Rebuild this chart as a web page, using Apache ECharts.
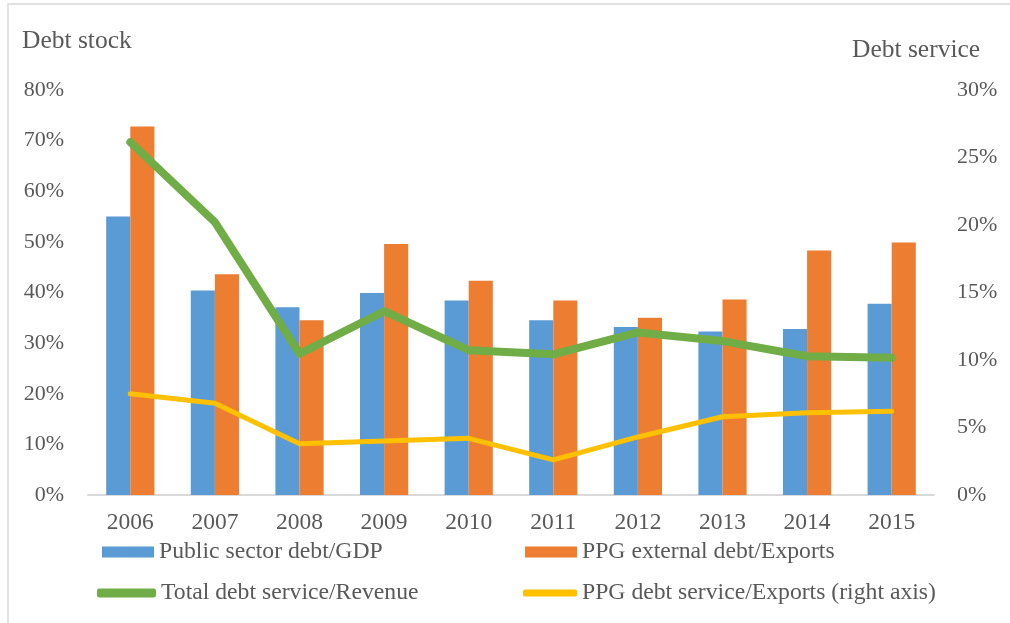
<!DOCTYPE html>
<html>
<head>
<meta charset="utf-8">
<script src="https://cdn.jsdelivr.net/npm/echarts@6/dist/echarts.min.js"></script>
<style>
  html, body { margin: 0; padding: 0; background: #fff; }
  #chart { width: 1010px; height: 623px; }
</style>
</head>
<body>
<div id="chart"></div>
<script>
const years = ['2006', '2007', '2008', '2009', '2010', '2011', '2012', '2013', '2014', '2015']
const publicDebtGdp = [55.0, 40.4, 37.1, 39.9, 38.4, 34.5, 33.2, 32.3, 32.8, 37.8]
const ppgDebtExports = [72.8, 43.6, 34.5, 49.6, 42.3, 38.4, 35.0, 38.6, 48.3, 49.9]
const debtServiceRevenue = [69.7, 53.9, 27.9, 36.3, 28.6, 27.8, 32.1, 30.4, 27.4, 27.1]
const ppgServiceExports = [7.5, 6.8, 3.8, 4.0, 4.2, 2.6, 4.3, 5.8, 6.1, 6.2]

const names = ['Public sector debt/GDP', 'PPG external debt/Exports',
    'Total debt service/Revenue', 'PPG debt service/Exports (right axis)']

const textColor = '#595959'
const fontFamily = '"Liberation Serif", "Times New Roman", serif'

const myChart = echarts.init(document.getElementById('chart'))

function oneLegend(name, left, top, icon, w, h){
    return {
        data: [name],
        left: left,
        top: top,
        padding: 0,
        icon: icon,
        itemWidth: w,
        itemHeight: h,
        selectedMode: false,
        textStyle: {color: textColor, fontFamily: fontFamily, fontSize: 23.7}
    }
}

myChart.setOption({
    animation: false,
    textStyle: {fontFamily: fontFamily},
    grid: {left: 88, right: 76, top: 90, bottom: 128},
    legend: [
        oneLegend(names[0], 102, 540, 'rect', 52, 11),
        oneLegend(names[1], 525, 540, 'rect', 52, 11),
        oneLegend(names[2], 97, 581, 'roundRect', 59, 9),
        oneLegend(names[3], 523, 581, 'roundRect', 54, 7)
    ],
    graphic: [
        {
            type: 'rect', z: -1, silent: true,
            shape: {x: 8, y: 4, width: 1100, height: 700},
            style: {fill: 'none', stroke: '#D9D9D9', lineWidth: 1.5}
        },
        {
            type: 'text', left: 22, top: 28,
            style: {text: 'Debt stock', fill: textColor, font: '25.5px ' + fontFamily}
        },
        {
            type: 'text', left: 852, top: 37,
            style: {text: 'Debt service', fill: textColor, font: '25.5px ' + fontFamily}
        }
    ],
    xAxis: {
        type: 'category',
        data: years,
        axisLine: {lineStyle: {color: '#D9D9D9', width: 2}},
        axisTick: {show: false},
        axisLabel: {color: textColor, fontSize: 23.5, margin: 16}
    },
    yAxis: [
        {
            type: 'value', min: 0, max: 80, interval: 10,
            splitLine: {show: false},
            axisLine: {show: false},
            axisTick: {show: false},
            axisLabel: {color: textColor, fontSize: 22, margin: 24, formatter: '{value}%'}
        },
        {
            type: 'value', min: 0, max: 30, interval: 5,
            splitLine: {show: false},
            axisLine: {show: false},
            axisTick: {show: false},
            axisLabel: {color: textColor, fontSize: 22, margin: 23, formatter: '{value}%'}
        }
    ],
    series: [
        {
            name: names[0], type: 'bar', data: publicDebtGdp,
            barGap: '0%', barCategoryGap: '43%',
            itemStyle: {color: '#5B9BD5'}
        },
        {
            name: names[1], type: 'bar', data: ppgDebtExports,
            itemStyle: {color: '#ED7D31'}
        },
        {
            name: names[2], type: 'line', data: debtServiceRevenue,
            symbol: 'none', z: 3,
            itemStyle: {color: '#70AD47'},
            lineStyle: {color: '#70AD47', width: 8, cap: 'round', join: 'round'}
        },
        {
            name: names[3], type: 'line', data: ppgServiceExports, yAxisIndex: 1,
            symbol: 'none', z: 3,
            itemStyle: {color: '#FFC000'},
            lineStyle: {color: '#FFC000', width: 5, cap: 'round', join: 'round'}
        }
    ]
})
</script>
</body>
</html>
